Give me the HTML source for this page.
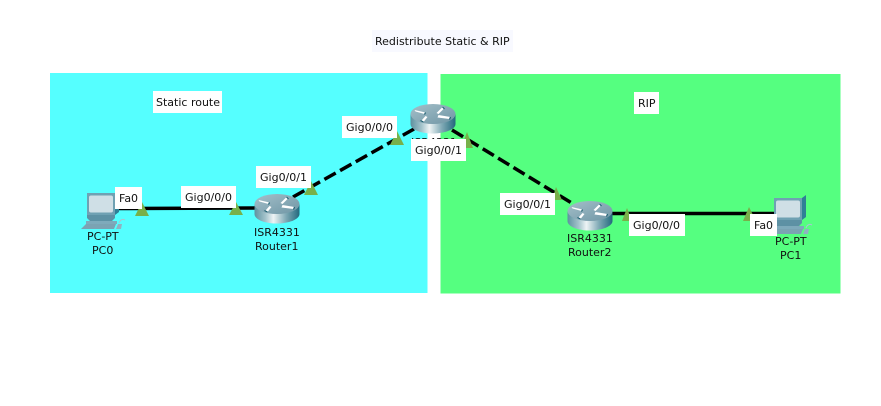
<!DOCTYPE html>
<html>
<head>
<meta charset="utf-8">
<style>
html,body{margin:0;padding:0;background:#fff;}
svg{display:block;}
text{font-family:"DejaVu Sans",sans-serif;font-size:11px;fill:#111;}
</style>
</head>
<body>
<svg width="881" height="406" viewBox="0 0 881 406" xmlns="http://www.w3.org/2000/svg">
<defs>
<linearGradient id="cyl" x1="0" x2="1" y1="0" y2="0">
<stop offset="0" stop-color="#5d919f"/>
<stop offset=".25" stop-color="#a5c4cc"/>
<stop offset=".42" stop-color="#eef4f5"/>
<stop offset=".7" stop-color="#7fa9b5"/>
<stop offset="1" stop-color="#23697d"/>
</linearGradient>
<linearGradient id="top" x1="0" x2="1" y1="0" y2="1">
<stop offset="0" stop-color="#a4bfc9"/>
<stop offset="1" stop-color="#6f96a5"/>
</linearGradient>
<g id="router">
<path d="M0 10V20C0 25.500 10 29.500 22 29.500S45 25.500 45 20V10Z" fill="url(#cyl)"/>
<ellipse cx="22.5" cy="10" rx="22.5" ry="10" fill="url(#top)"/>
<path d="M4 6L15 8.500L14 10L5 7.500ZM17 13L13 18L11 16.500L15 12ZM26 9L32 3L33.500 4.500L28 10ZM28 11L40 13L39 15L27 13.500Z" fill="#fff"/>
<path d="M15 8.500L14 10.500M13 18L10 16.500M32 3L34 5M40 13L39 15.500" stroke="#1d5f72" stroke-width="1.2"/>
</g>
<g id="pc">
<path d="M6 0H34V22H6Z" fill="#6fa1b3"/>
<path d="M34 0L38 -3V19L34 22Z" fill="#2f7f96"/>
<rect x="8" y="2.500" width="24" height="17" rx="2" fill="#cfdfe6"/>
<path d="M6 22H34V25L31 28H9L6 25Z" fill="#5d91a4"/>
<path d="M5 28H36V31H5Z" fill="#7eaabb"/>
<path d="M0 36L5 31H35L33 36Z" fill="#7ba3b3"/>
<path d="M35 36L37 31H41L40 36Z" fill="#8fb3c1"/>
<path d="M38 30Q40 25 44 27" fill="none" stroke="#a7c7d2" stroke-width="1"/>
</g>
</defs>

<rect x="50" y="73" width="377.5" height="220" fill="#55ffff"/>
<rect x="440.500" y="74" width="400" height="219.500" fill="#55ff80"/>

<rect x="372" y="30" width="141" height="22" fill="#f8f9ff"/>
<text x="375" y="45">Redistribute Static &amp; RIP</text>

<rect x="153" y="91" width="69" height="22" fill="#fff"/>
<text x="156" y="106">Static route</text>
<rect x="634" y="92" width="25" height="22" fill="#fff"/>
<text x="638" y="107">RIP</text>

<!-- links -->
<g stroke="#000" stroke-width="3.5" fill="none">
<path d="M116 208.500L256 208"/>
<path d="M293 197L414 129" stroke-dasharray="13 5"/>
<path d="M452 130L575 205" stroke-dasharray="13 5"/>
<path d="M608 213.500H775"/>
</g>

<!-- link indicators -->
<g fill="#78b04a">
<path d="M142 202L149 216H135Z"/>
<path d="M236 202L243 215H229Z"/>
<path d="M311 181L318 195H304Z"/>
<path d="M397 131L404 145H390Z"/>
<path d="M467 132L473 148H461Z"/>
<path d="M556 187L562 200H552Z"/>
<path d="M627 208L632 221H622Z"/>
<path d="M749 207L756 221H743Z"/>
</g>

<!-- devices -->
<g transform="translate(81,193)"><use href="#pc"/></g>
<g transform="translate(768,198)"><use href="#pc"/></g>
<use href="#router" x="254.500" y="194"/>
<use href="#router" x="410.500" y="104"/>
<use href="#router" x="567.500" y="201"/>

<!-- device label mostly hidden by the interface label -->
<text x="411" y="146">ISR4331</text>

<!-- interface labels -->
<rect x="115" y="187" width="27" height="22" fill="#fff"/>
<text x="119" y="202">Fa0</text>
<rect x="181" y="186" width="55" height="22" fill="#fff"/>
<text x="185" y="201">Gig0/0/0</text>
<rect x="256" y="166" width="55" height="22" fill="#fff"/>
<text x="260" y="181">Gig0/0/1</text>
<rect x="342" y="116" width="55" height="22" fill="#fff"/>
<text x="346" y="131">Gig0/0/0</text>
<rect x="411" y="139" width="55" height="22" fill="#fff"/>
<text x="415" y="154">Gig0/0/1</text>
<rect x="500" y="193" width="55" height="22" fill="#fff"/>
<text x="504" y="208">Gig0/0/1</text>
<rect x="629" y="214" width="56" height="22" fill="#fff"/>
<text x="633" y="229">Gig0/0/0</text>
<rect x="750" y="214" width="27" height="22" fill="#fff"/>
<text x="754" y="229">Fa0</text>

<!-- device labels -->
<text x="87" y="240">PC-PT</text>
<text x="92" y="254">PC0</text>
<text x="254" y="236">ISR4331</text>
<text x="255" y="250">Router1</text>
<text x="567" y="242">ISR4331</text>
<text x="568" y="256">Router2</text>
<text x="775" y="245">PC-PT</text>
<text x="780" y="259">PC1</text>
</svg>
</body>
</html>
